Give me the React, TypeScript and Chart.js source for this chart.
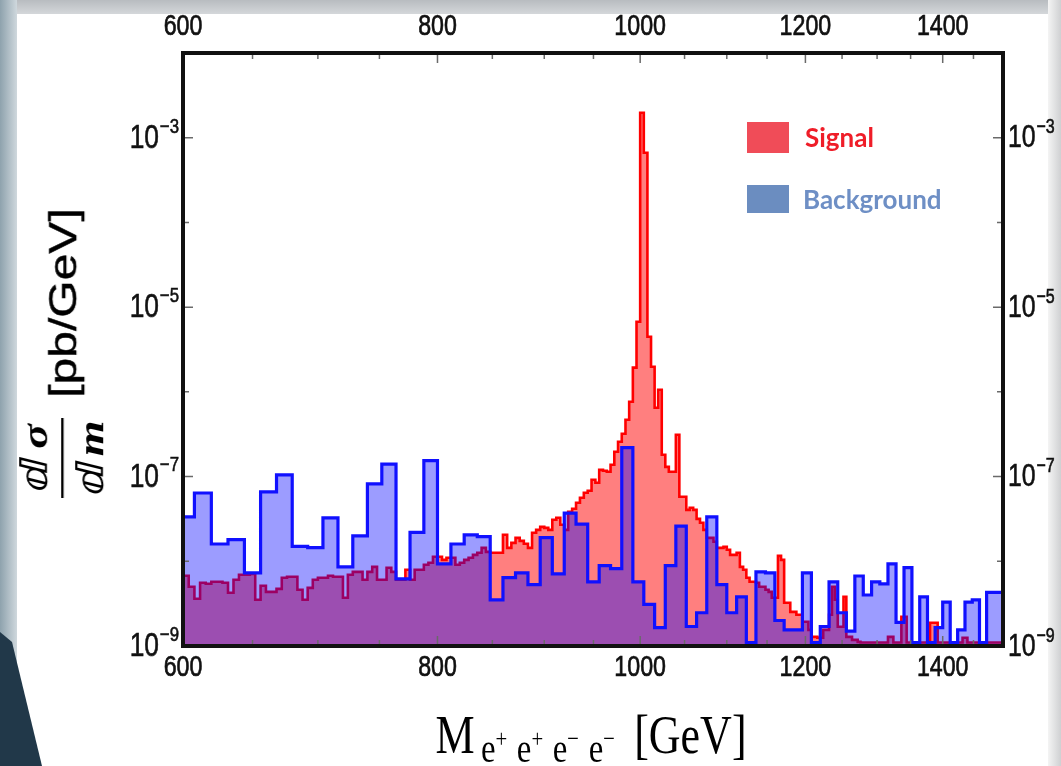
import React, { useEffect, useRef } from 'react';
import { Chart, LinearScale, registerables } from 'chart.js';

// ---------------- data ----------------
const SIGNAL_LABEL = 'Signal';
const BACKGROUND_LABEL = 'Background';

// signal histogram: 4 GeV bins starting at 600 GeV (pb/GeV)
const SIGNAL_BIN_START = 600;
const SIGNAL_BIN_WIDTH = 4;
const SIGNAL_VALUES = [
  6.74e-9, 5.0e-9, 3.61e-9, 5.57e-9, 5.42e-9, 5.73e-9, 5.73e-9, 5.57e-9, 4.25e-9, 6.05e-9,
  6.93e-9, 6.93e-9, 7.1e-9, 3.52e-9, 5.14e-9, 4.36e-9, 4.36e-9, 4.73e-9, 6.38e-9, 6.56e-9,
  6.56e-9, 4.61e-9, 3.52e-9, 4.86e-9, 6.05e-9, 6.38e-9, 6.38e-9, 6.74e-9, 6.56e-9, 6.56e-9,
  3.71e-9, 6.93e-9, 7.5e-9, 7.5e-9, 6.05e-9, 7.5e-9, 8.6e-9, 6.05e-9, 6.05e-9, 8.4e-9,
  7.5e-9, 6.05e-9, 6.05e-9, 7.94e-9, 6.05e-9, 7.94e-9, 7.94e-9, 9.1e-9, 9.6e-9, 1.13e-8,
  1.13e-8, 1.04e-8, 1.1e-8, 1.1e-8, 9.1e-9, 9.6e-9, 1.04e-8, 1.1e-8, 1.19e-8, 1.26e-8,
  1.44e-8, 1.29e-8, 1.26e-8, 1.26e-8, 1.26e-8, 2.06e-8, 1.44e-8, 1.65e-8, 1.89e-8, 1.74e-8,
  1.61e-8, 1.44e-8, 2.17e-8, 2.35e-8, 2.55e-8, 2.48e-8, 2.35e-8, 3.09e-8, 3.26e-8, 2.7e-8,
  2.35e-8, 3.84e-8, 4.17e-8, 4.91e-8, 5.62e-8, 6.44e-8, 6.8e-8, 9.17e-8, 8.45e-8, 1.2e-7,
  1.17e-7, 1.14e-7, 1.38e-7, 1.96e-7, 2.58e-7, 3.2e-7, 4.69e-7, 7.64e-7, 1.93e-6, 6.73e-6,
  1.97e-3, 6.65e-4, 4.48e-6, 1.98e-6, 6.49e-7, 1.06e-6, 1.81e-7, 1.3e-7, 1.14e-7, 1.14e-7,
  3.12e-7, 5.78e-8, 5.78e-8, 4.05e-8, 4.28e-8, 4.05e-8, 3.17e-8, 2.85e-8, 2.35e-8, 1.89e-8,
  1.89e-8, 1.7e-8, 1.44e-8, 1.44e-8, 1.48e-8, 1.37e-8, 1.19e-8, 1.19e-8, 1.26e-8, 8.6e-9,
  7.94e-9, 6.38e-9, 5.73e-9, 5.73e-9, 5.57e-9, 5.0e-9, 5.0e-9, 4.61e-9, 4.36e-9, 3.71e-9,
  3.71e-9, 1.16e-8, 1.04e-8, 3.24e-9, 3.24e-9, 2.53e-9, 2.53e-9, 2.34e-9, 2.34e-9, 1.93e-9,
  1.93e-9, 1.55e-9, 1.28e-9, 1.28e-9, 1.25e-9, 1.25e-9, 1.55e-9, 1.55e-9, 2.34e-9, 5.0e-9,
  3.52e-9, 1.69e-9, 1.69e-9, 3.81e-9, 1.28e-9, 1.28e-9, 1.18e-9, 1.18e-9, 1.12e-9, 1.1e-9,
  1.1e-9, 1.1e-9, 1.1e-9, 1.1e-9, 1.1e-9, 1.1e-9, 1.1e-9, 1.1e-9, 1.1e-9, 1.28e-9,
  1.28e-9, 1.1e-9, 1.1e-9, 1.1e-9, 2.21e-9, 2.21e-9, 1.1e-9, 1.1e-9, 1.1e-9, 1.1e-9,
  1.1e-9, 1.1e-9, 1.1e-9, 1.1e-9, 1.1e-9, 1.88e-9, 1.88e-9, 1.88e-9, 1.1e-9, 1.1e-9,
  1.1e-9, 1.1e-9, 1.1e-9, 1.1e-9, 1.1e-9, 1.1e-9, 1.1e-9, 1.1e-9, 1.25e-9, 1.25e-9,
  1.1e-9, 1.1e-9, 1.1e-9, 1.1e-9, 1.1e-9, 1.1e-9, 1.1e-9, 1.1e-9, 1.1e-9, 1.1e-9,
  1.1e-9, 1.1e-9, 1.1e-9, 1.1e-9, 1.1e-9,
];

// background histogram: 12 GeV bins starting at 596 GeV (pb/GeV)
const BACKGROUND_BIN_START = 596;
const BACKGROUND_BIN_WIDTH = 12;
const BACKGROUND_VALUES = [
  3.35e-8, 6.4e-8, 1.6e-8, 1.8e-8, 7.3e-9, 6.6e-8, 1.05e-7, 1.5e-8, 1.45e-8, 3.25e-8,
  8.6e-9, 2.0e-8, 8.2e-8, 1.4e-7, 6.2e-9, 2.2e-8, 1.54e-7, 9.3e-9, 1.6e-8, 2.05e-8,
  1.95e-8, 3.5e-9, 6.4e-9, 7.3e-9, 5.3e-9, 1.9e-8, 7.1e-9, 3.7e-8, 2.75e-8, 5.7e-9,
  8.9e-9, 8.2e-9, 2.2e-7, 5.7e-9, 3.1e-9, 1.65e-9, 8.9e-9, 2.6e-8, 1.7e-9, 2.47e-9,
  3.35e-8, 5.3e-9, 2.47e-9, 3.8e-9, 1.1e-9, 7.5e-9, 7.3e-9, 2.0e-9, 1.55e-9, 1.55e-9,
  7.3e-9, 1.1e-9, 1.7e-9, 5.7e-9, 2.47e-9, 1.5e-9, 6.7e-9, 4.0e-9, 5.7e-9, 5.4e-9,
  9.3e-9, 1.9e-9, 8.4e-9, 1.1e-9, 3.8e-9, 1.1e-9, 1.65e-9, 3.3e-9, 1.1e-9, 1.55e-9,
  3.3e-9, 3.5e-9, 1.1e-9, 4.3e-9, 4.3e-9, 4.3e-9,
];

const X_MIN = 600;
const X_MAX = 1500;
const X_TICK_VALUES = [600, 650, 700, 750, 800, 850, 900, 950, 1000, 1050, 1100, 1150, 1200, 1250, 1300, 1350, 1400, 1450, 1500];
const X_LABEL_VALUES = [600, 800, 1000, 1200, 1400];
const Y_MIN = 1e-9;
const Y_MAX = 1e-2;
const Y_TICK_VALUES = [1e-9, 1e-8, 1e-7, 1e-6, 1e-5, 1e-4, 1e-3, 1e-2];
const Y_LABEL_EXPONENTS = [-9, -7, -5, -3];

// ---------------- perspective-warped linear axis ----------------
class WarpScale extends (LinearScale as any) {
  static id = 'warp';
  static defaults = { ...(LinearScale as any).defaults };
  getPixelForValue(value: any) {
    if (value === null || value === undefined || isNaN(value)) return NaN;
    const c = (this as any).options.warp || 0;
    const u = (value - (this as any).min) / ((this as any).max - (this as any).min);
    const f = ((1 + c) * u) / (1 + c * u);
    return (this as any).getPixelForDecimal(f);
  }
  getValueForPixel(pixel: number) {
    const c = (this as any).options.warp || 0;
    const f = (this as any).getDecimalForPixel(pixel);
    const u = f / (1 + c - c * f);
    return (this as any).min + u * ((this as any).max - (this as any).min);
  }
}

Chart.register(...registerables, WarpScale as any);

function histogramPoints(start: number, width: number, values: number[]) {
  const pts = values.map((v, i) => ({ x: start + i * width, y: v }));
  pts.push({ x: start + values.length * width, y: values[values.length - 1] });
  return pts;
}

const TICK_FONT = '29px "Liberation Sans", Arial, sans-serif';
const SQUEEZE = 0.8;
const TEXT_COLOR = '#111';

function heavyText(ctx: CanvasRenderingContext2D, text: string, x: number, y: number) {
  ctx.fillText(text, x, y);
  ctx.strokeText(text, x, y);
}

function drawSqueezed(ctx: CanvasRenderingContext2D, text: string, x: number, y: number) {
  ctx.save();
  ctx.translate(x, y);
  ctx.scale(SQUEEZE, 1);
  ctx.font = TICK_FONT;
  ctx.textAlign = 'center';
  ctx.textBaseline = 'middle';
  ctx.fillStyle = TEXT_COLOR;
  ctx.strokeStyle = TEXT_COLOR;
  ctx.lineWidth = 0.7;
  heavyText(ctx, text, 0, 0);
  ctx.restore();
}

function drawPower(ctx: CanvasRenderingContext2D, exp: number, x: number, y: number, align: 'left' | 'right', baseSize: number, supSize: number) {
  const base = '10';
  const sup = '\u2212' + String(Math.abs(exp));
  const baseFont = `${baseSize}px "Liberation Sans", Arial, sans-serif`;
  const supFont = `${supSize}px "Liberation Sans", Arial, sans-serif`;
  ctx.save();
  ctx.translate(x, y);
  ctx.scale(SQUEEZE, 1);
  ctx.textAlign = 'left';
  ctx.textBaseline = 'middle';
  ctx.fillStyle = TEXT_COLOR;
  ctx.strokeStyle = TEXT_COLOR;
  ctx.lineWidth = 0.6;
  ctx.font = baseFont;
  const wb = ctx.measureText(base).width;
  ctx.font = supFont;
  const ws = ctx.measureText(sup).width;
  const total = wb + 1 + ws;
  const sx = align === 'right' ? -total : 0;
  ctx.font = baseFont;
  heavyText(ctx, base, sx, 1);
  ctx.font = supFont;
  heavyText(ctx, sup, sx + wb + 1, -Math.round(baseSize * 0.32));
  ctx.restore();
}

const framePlugin = {
  id: 'frameTicksLabels',
  afterDraw(chart: any) {
    const { ctx, chartArea } = chart;
    const { left, right, top, bottom } = chartArea;
    const xs = chart.scales.x;
    const ys = chart.scales.y;
    ctx.save();
    ctx.strokeStyle = '#6a6a6a';
    ctx.lineWidth = 1.5;
    ctx.beginPath();
    for (const t of xs.ticks) {
      if (t.value <= X_MIN || t.value >= X_MAX) continue;
      const px = xs.getPixelForValue(t.value);
      const len = X_LABEL_VALUES.includes(t.value) ? 10 : 6;
      ctx.moveTo(px, bottom);
      ctx.lineTo(px, bottom - len);
      ctx.moveTo(px, top);
      ctx.lineTo(px, top + len);
    }
    for (const t of ys.ticks) {
      if (t.value <= Y_MIN * 1.001 || t.value >= Y_MAX * 0.999) continue;
      const py = ys.getPixelForValue(t.value);
      const e = Math.round(Math.log10(t.value));
      const len = Y_LABEL_EXPONENTS.includes(e) ? 10 : 6;
      ctx.moveTo(left, py);
      ctx.lineTo(left + len, py);
      ctx.moveTo(right, py);
      ctx.lineTo(right - len, py);
    }
    ctx.stroke();

    ctx.strokeStyle = '#111';
    ctx.lineWidth = 4;
    ctx.strokeRect(left, top, right - left, bottom - top);

    for (const t of xs.ticks) {
      if (!X_LABEL_VALUES.includes(t.value)) continue;
      const px = xs.getPixelForValue(t.value);
      drawSqueezed(ctx, String(t.value), px, top - 26);
      drawSqueezed(ctx, String(t.value), px, bottom + 22);
    }
    for (const t of ys.ticks) {
      const e = Math.round(Math.log10(t.value));
      if (!Y_LABEL_EXPONENTS.includes(e)) continue;
      const py = ys.getPixelForValue(t.value);
      drawPower(ctx, e, left - 4, py, 'right', 33, 21);
      drawPower(ctx, e, right + 5, py, 'left', 31, 20);
    }
    ctx.restore();
  },
};

const WARP = 0.575;

export default function App() {
  const ref = useRef<HTMLCanvasElement | null>(null);

  useEffect(() => {
    if (!ref.current) return;
    const xTicks = (scale: any) => {
      scale.ticks = X_TICK_VALUES.map((v) => ({ value: v }));
    };
    const yTicks = (scale: any) => {
      scale.ticks = Y_TICK_VALUES.map((v) => ({ value: v }));
    };
    const hidden = {
      ticks: { display: false },
      grid: { display: false },
      border: { display: false },
    };
    const chart = new Chart(ref.current, {
      type: 'line',
      data: {
        datasets: [
          {
            label: BACKGROUND_LABEL,
            data: histogramPoints(BACKGROUND_BIN_START, BACKGROUND_BIN_WIDTH, BACKGROUND_VALUES),
            borderColor: '#1010ff',
            backgroundColor: 'rgba(0,0,255,0.39)',
            borderWidth: 3.2,
            fill: 'start',
            stepped: 'before',
            pointRadius: 0,
            order: 0,
            xAxisID: 'x',
            yAxisID: 'y',
          },
          {
            label: SIGNAL_LABEL,
            data: histogramPoints(SIGNAL_BIN_START, SIGNAL_BIN_WIDTH, SIGNAL_VALUES),
            borderColor: '#ff0000',
            backgroundColor: 'rgba(255,0,0,0.5)',
            borderWidth: 2.6,
            fill: 'start',
            stepped: 'before',
            pointRadius: 0,
            order: 1,
            xAxisID: 'x',
            yAxisID: 'y',
          },
        ],
      },
      options: {
        animation: false,
        responsive: false,
        devicePixelRatio: 1,
        events: [],
        layout: { padding: 0, autoPadding: false },
        plugins: { legend: { display: false }, tooltip: { enabled: false } },
        scales: {
          x: {
            type: 'warp' as any, position: 'bottom', min: X_MIN, max: X_MAX, warp: WARP,
            afterBuildTicks: xTicks, afterFit: (s: any) => { s.height = 120; }, ...hidden,
          } as any,
          x2: {
            type: 'warp' as any, position: 'top', min: X_MIN, max: X_MAX, warp: WARP,
            afterBuildTicks: xTicks, afterFit: (s: any) => { s.height = 53; }, ...hidden,
          } as any,
          y: {
            type: 'logarithmic', position: 'left', min: Y_MIN, max: Y_MAX,
            afterBuildTicks: yTicks, afterFit: (s: any) => { s.width = 183; }, ...hidden,
          } as any,
          y2: {
            type: 'logarithmic', position: 'right', min: Y_MIN, max: Y_MAX,
            afterBuildTicks: yTicks, afterFit: (s: any) => { s.width = 58; }, ...hidden,
          } as any,
        },
      } as any,
      plugins: [framePlugin],
    });
    return () => chart.destroy();
  }, []);

  const abs: React.CSSProperties = { position: 'absolute' };
  const supStyle: React.CSSProperties = { fontSize: 26, position: 'relative', top: -15 };

  return (
    <div style={{ position: 'absolute', left: 0, top: 0, width: 1061, height: 766, overflow: 'hidden', background: '#ffffff' }}>
      {/* slide decoration */}
      <div style={{ ...abs, left: 0, top: 0, width: 1061, height: 14, background: 'linear-gradient(#b8bcc0, #d4d7da)' }} />
      <div style={{ ...abs, left: 0, top: 0, width: 17, height: 766, background: 'linear-gradient(90deg, #8ea2ad, #cfd8dd)' }} />
      <div style={{ ...abs, left: 1048, top: 0, width: 13, height: 766, background: 'linear-gradient(90deg, #f4f4f4, #cfd0d2)' }} />
      <div style={{ ...abs, left: 0, top: 0, width: 60, height: 766, background: '#213849', clipPath: 'polygon(0px 632px, 12px 642px, 42px 766px, 0px 766px)' }} />

      <canvas ref={ref} width={1061} height={766} style={{ ...abs, left: 0, top: 0, width: 1061, height: 766 }} />

      {/* legend */}
      <div style={{ ...abs, left: 747, top: 122, width: 42, height: 31, background: '#f04c58' }} />
      <div style={{ ...abs, left: 805, top: 121, height: 32, lineHeight: '32px', fontFamily: 'Lato, "Open Sans", sans-serif', fontWeight: 700, fontSize: 26, color: '#ef1d28', whiteSpace: 'nowrap' }}>{SIGNAL_LABEL}</div>
      <div style={{ ...abs, left: 747, top: 185, width: 42, height: 28, background: '#6b8dc0' }} />
      <div style={{ ...abs, left: 803, top: 183, height: 32, lineHeight: '32px', fontFamily: 'Lato, "Open Sans", sans-serif', fontWeight: 700, fontSize: 26, color: '#6e8fc5', whiteSpace: 'nowrap' }}>{BACKGROUND_LABEL}</div>

      {/* y-axis title */}
      <div style={{ ...abs, left: 62 - 160, top: 353 - 55, width: 320, height: 110, display: 'flex', alignItems: 'center', justifyContent: 'center', transform: 'scaleX(0.8) rotate(-90deg)', transformOrigin: '50% 50%', color: '#000' }}>
        <div style={{ display: 'flex', flexDirection: 'column', alignItems: 'center' }}>
          <div style={{ height: 46, lineHeight: '46px', fontSize: 46, whiteSpace: 'nowrap' }}>
            <span style={{ fontFamily: '"DejaVu Sans", sans-serif', fontWeight: 700 }}>{'\u2146'}</span>
            <span style={{ fontFamily: '"Liberation Serif", serif', fontStyle: 'italic', fontWeight: 700, marginLeft: 10 }}>{'\u03c3'}</span>
          </div>
          <div style={{ width: 80, height: 3, background: '#000', margin: '10px 0' }} />
          <div style={{ height: 46, lineHeight: '46px', fontSize: 46, whiteSpace: 'nowrap' }}>
            <span style={{ fontFamily: '"DejaVu Sans", sans-serif', fontWeight: 700 }}>{'\u2146'}</span>
            <span style={{ fontFamily: '"Liberation Serif", serif', fontStyle: 'italic', fontWeight: 700, marginLeft: 6 }}>m</span>
          </div>
        </div>
        <div style={{ marginLeft: 20, marginTop: 4, fontFamily: '"Liberation Sans", Arial, sans-serif', fontSize: 48, lineHeight: '52px', whiteSpace: 'nowrap', WebkitTextStroke: '0.5px #000' }}>[pb/GeV]</div>
      </div>

      {/* x-axis title */}
      <div style={{ ...abs, left: 591 - 260, top: 708, width: 520, height: 60, textAlign: 'center', transform: 'scaleX(0.8)', transformOrigin: '50% 50%', fontFamily: '"Liberation Serif", "Times New Roman", serif', fontSize: 55, lineHeight: '54px', color: '#000', whiteSpace: 'nowrap' }}>
        <span>M</span>
        <span style={{ fontSize: 41, position: 'relative', top: 9, marginLeft: 8 }}>
          e<span style={{ ...supStyle, marginRight: 12 }}>+</span>
          e<span style={{ ...supStyle, marginRight: 12 }}>+</span>
          e<span style={{ ...supStyle, marginRight: 12 }}>{'\u2212'}</span>
          e<span style={supStyle}>{'\u2212'}</span>
        </span>
        <span style={{ marginLeft: 24 }}>[GeV]</span>
      </div>
    </div>
  );
}
